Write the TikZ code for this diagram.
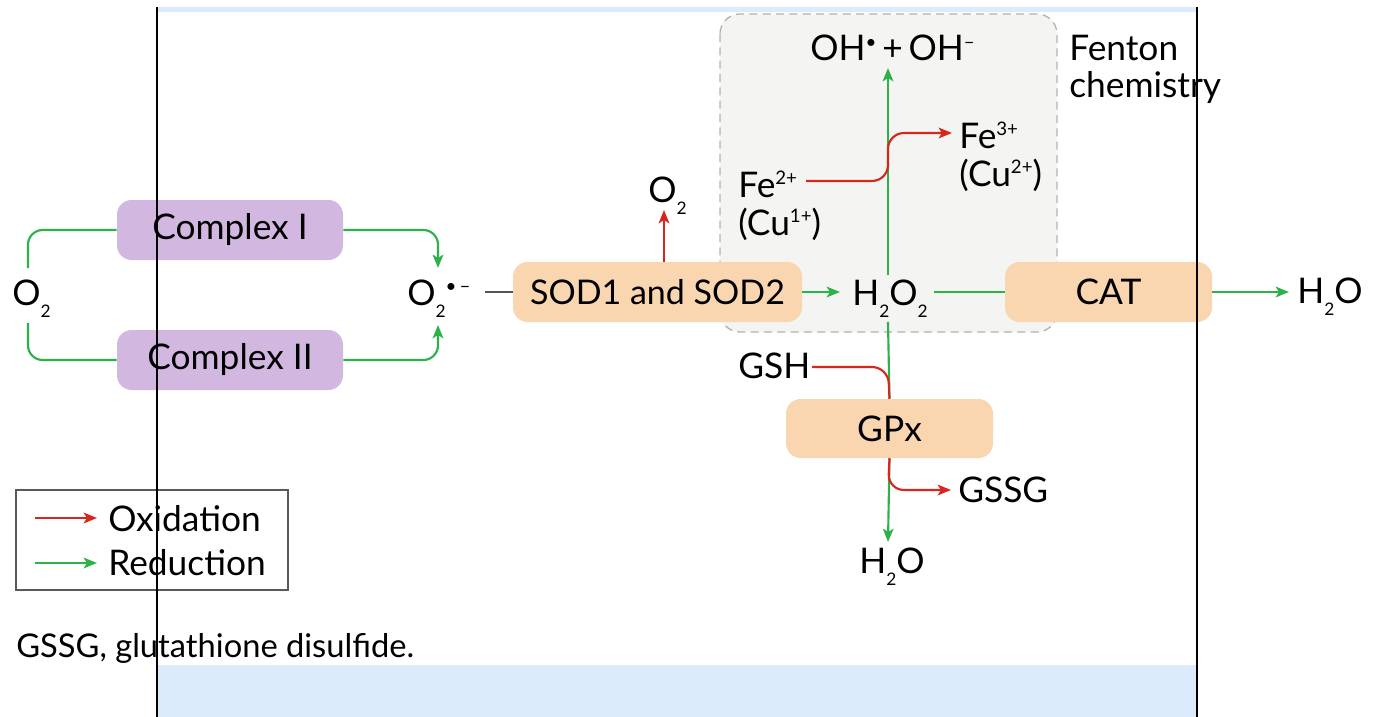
\documentclass[tikz,border=0pt]{standalone}
\usepackage{fontspec}
\setmainfont{Lato}
\usetikzlibrary{arrows.meta}
\definecolor{grn}{RGB}{45,178,75}
\definecolor{rd}{RGB}{215,38,30}
\definecolor{org}{RGB}{249,214,176}
\definecolor{pur}{RGB}{210,184,225}
\definecolor{fen}{RGB}{244,244,242}
\definecolor{fenb}{RGB}{180,180,172}
\definecolor{band}{RGB}{220,235,251}
\definecolor{dgr}{RGB}{80,86,92}
\newcommand{\mysub}[1]{\raisebox{-9.5pt}{\fontsize{13}{13}\selectfont #1}}
\newcommand{\mysup}[1]{\raisebox{9.5pt}{\fontsize{14}{14}\selectfont #1}}
\tikzset{
  lbl/.style={inner sep=0pt, font=\fontsize{26.5}{32}\selectfont, anchor=base west},
  enz/.style={rounded corners=11pt, fill=org, minimum height=45pt, inner sep=0pt, font=\fontsize{26.5}{32}\selectfont},
  cpx/.style={enz, fill=pur},
  ln/.style={line width=1.6pt},
  arr/.style={ln, -{Stealth[length=10pt,width=8pt,inset=2.5pt]}},
}
\begin{document}
\begin{tikzpicture}[x=0.75pt,y=-0.75pt]
\useasboundingbox (0,0) rectangle (1379,717);
\fill[white] (0,0) rectangle (1379,717);
% bands
\fill[band] (157,7) rectangle (1197,12);
\fill[band] (157,665) rectangle (1197,717);
% Fenton box
\draw[fenb, fill=fen, line width=1pt, dash pattern=on 6pt off 4pt, rounded corners=15pt] (720,14) rectangle (1057,332);
\node[lbl] (fent1) at (1069,61) {Fenton};
\node[lbl] (fent2) at (1069,98) {chemistry};

% boxes
\node[cpx, minimum width=169.5pt] (c1) at (230,230) {Complex I};
\node[cpx, minimum width=169.5pt] (c2) at (230,360) {Complex II};
\node[enz, minimum width=216.75pt, font=\fontsize{25.5}{30}\selectfont] (sod) at (657.5,292) {SOD1 and SOD2};
\node[enz, minimum width=155.25pt] (cat) at (1108.5,292) {CAT};
\node[enz, minimum width=155.25pt, minimum height=44.25pt] (gpx) at (889.5,428.5) {GPx};

% labels
\node[lbl] (o2a) at (12,305) {O\mysub{2}};
\node[lbl] (sox) at (407,305) {O\mysub{2}\mysup{\textbullet\,–}};
\node[lbl] (o2c) at (648,202) {O\mysub{2}};
\node[lbl] (h2o2) at (852,305) {H\mysub{2}O\mysub{2}};
\node[lbl] (h2or) at (1297,303) {H\mysub{2}O};
\node[lbl] (h2ob) at (859,573) {H\mysub{2}O};
\node[lbl] (oh) at (810,61) {OH\mysup{\textbullet}\,+\,OH\mysup{–}};
\node[lbl] (fe2) at (738,197) {Fe\mysup{2+}};
\node[lbl] (cu1) at (738,235) {(Cu\mysup{1+})};
\node[lbl] (fe3) at (959,148) {Fe\mysup{3+}};
\node[lbl] (cu2) at (959,186) {(Cu\mysup{2+})};
\node[lbl] (gsh) at (738,378) {GSH};
\node[lbl] (gssg) at (958,502) {GSSG};

% coordinates
\coordinate (s1) at (438,268);
\coordinate (s2) at (438,325);
\coordinate (o2t) at (28,268);
\coordinate (o2b) at (28,323);
\coordinate (d0) at (485,292);
\coordinate (t1) at (664,210);
\coordinate (hA) at (840,292);
\coordinate (hU) at (888,275);
\coordinate (ohB) at (888,68);
\coordinate (fe2e) at (806,181);
\coordinate (fe3w) at (952,133);
\coordinate (hR) at (934,292);
\coordinate (hW) at (1289,292);
\coordinate (hD) at (888,322);
\coordinate (gshe) at (812,367);
\coordinate (gssgw) at (951,490);
\coordinate (hB) at (888,542);

% connectors
\draw[grn, ln, rounded corners=11pt] (c1.west) -| (o2t);
\draw[grn, ln, rounded corners=11pt] (c2.west) -| (o2b);
\draw[grn, arr, rounded corners=11pt] (c1.east) -| (s1);
\draw[grn, arr, rounded corners=11pt] (c2.east) -| (s2);
\draw[dgr, ln] (d0) -- (sod.west);
\draw[rd, arr] (sod.north -| t1) -- (t1);
\draw[grn, arr] (sod.east) -- (hA);
\draw[grn, arr] (hU) -- (ohB);
\draw[rd, arr, rounded corners=12pt] (fe2e) -- (888,181) -- (888,133) -- (fe3w);
\draw[grn, ln] (hR) -- (cat.west);
\draw[grn, arr] (cat.east) -- (hW);
\draw[grn, ln] (hD) -- (gpx.north);
\draw[grn, arr] (gpx.south) -- (hB);
\draw[rd, ln, rounded corners=12pt] (gshe) -- (888,367) -- (gpx.north);
\draw[rd, arr, rounded corners=12pt] (gpx.south) -- (888,490) -- (gssgw);

% legend
\node[draw=black!65, line width=0.9pt, minimum width=204pt, minimum height=75pt, inner sep=0pt] (leg) at (152,540) {};
\coordinate (r1) at (35,518);
\coordinate (r2) at (97,518);
\coordinate (g1) at (35,563);
\coordinate (g2) at (97,563);
\draw[rd, arr] (r1) -- (r2);
\draw[grn, arr] (g1) -- (g2);
\node[lbl] (ox) at (108,531) {Oxidation};
\node[lbl] (re) at (108,575) {Reduction};
\node[lbl, font=\fontsize{24.5}{30}\selectfont] (cap) at (16,657) {GSSG, glutathione disulfide.};

% frame lines
\draw[black, line width=1.2pt] (157,7) -- (157,717);
\draw[black, line width=1.2pt] (1197,7) -- (1197,717);
\end{tikzpicture}
\end{document}
